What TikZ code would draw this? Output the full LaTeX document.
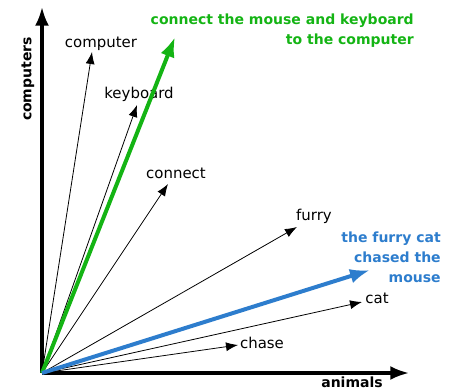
\documentclass[tikz,border=0pt]{standalone}
\usepackage{fontspec}
\setmainfont{DejaVu Sans}
\usetikzlibrary{arrows.meta}
\definecolor{phrasegreen}{RGB}{20,180,20}
\definecolor{phraseblue}{RGB}{45,125,205}

\begin{document}
\begin{tikzpicture}[x=0.75pt, y=-0.75pt,
    every node/.style={inner sep=0pt, font=\fontsize{11.2}{15}\selectfont},
    axislabel/.style={font=\fontsize{10.5}{15}\selectfont\bfseries},
    axis/.style={line width=2.4pt, -{Latex[length=14pt, width=10.5pt]}},
    wordvec/.style={line width=0.6pt, -{Latex[length=9pt, width=6.75pt]}},
    phrasevec/.style={line width=3pt, -{Latex[length=15pt, width=11pt]}}]

    \useasboundingbox (0,0) rectangle (452,390);

    % origin and axes
    \coordinate (origin) at (42,373);
    \coordinate (ytip) at (42,7);
    \coordinate (xtip) at (409,373);
    \draw[axis] (origin) -- (ytip);
    \draw[axis] (origin) -- (xtip);
    \node[axislabel, rotate=90] (computers) at (28,79) {computers};
    \node[axislabel] (animals) at (352,382) {animals};

    % computer
    \coordinate (computer) at (92,52);
    \draw[wordvec] (origin) -- (computer);
    \node (computerlabel) at (101,44) {computer};

    % keyboard
    \coordinate (keyboard) at (137,105);
    \draw[wordvec] (origin) -- (keyboard);
    \node (keyboardlabel) at (139,94) {keyboard};

    % connect
    \coordinate (connect) at (168,184);
    \draw[wordvec] (origin) -- (connect);
    \node (connectlabel) at (176,173) {connect};

    % furry
    \coordinate (furry) at (297,227);
    \draw[wordvec] (origin) -- (furry);
    \node (furrylabel) at (314,216) {furry};

    % cat
    \coordinate (cat) at (362,302);
    \draw[wordvec] (origin) -- (cat);
    \node (catlabel) at (377,298) {cat};

    % chase
    \coordinate (chase) at (238,345);
    \draw[wordvec] (origin) -- (chase);
    \node (chaselabel) at (262,343) {chase};

    % phrase: computers
    \coordinate (greentip) at (175,37);
    \draw[phrasevec, phrasegreen] (origin) -- (greentip);
    \node[axislabel, text=phrasegreen, align=right, anchor=east] (greenlabel) at (414,31)
        {connect the mouse and keyboard\\to the computer};

    % phrase: animals
    \coordinate (bluetip) at (370,270);
    \draw[phrasevec, phraseblue] (origin) -- (bluetip);
    \node[axislabel, text=phraseblue, align=right, anchor=east] (bluelabel) at (441,257)
        {the furry cat\\chased the\\mouse};

\end{tikzpicture}
\end{document}
